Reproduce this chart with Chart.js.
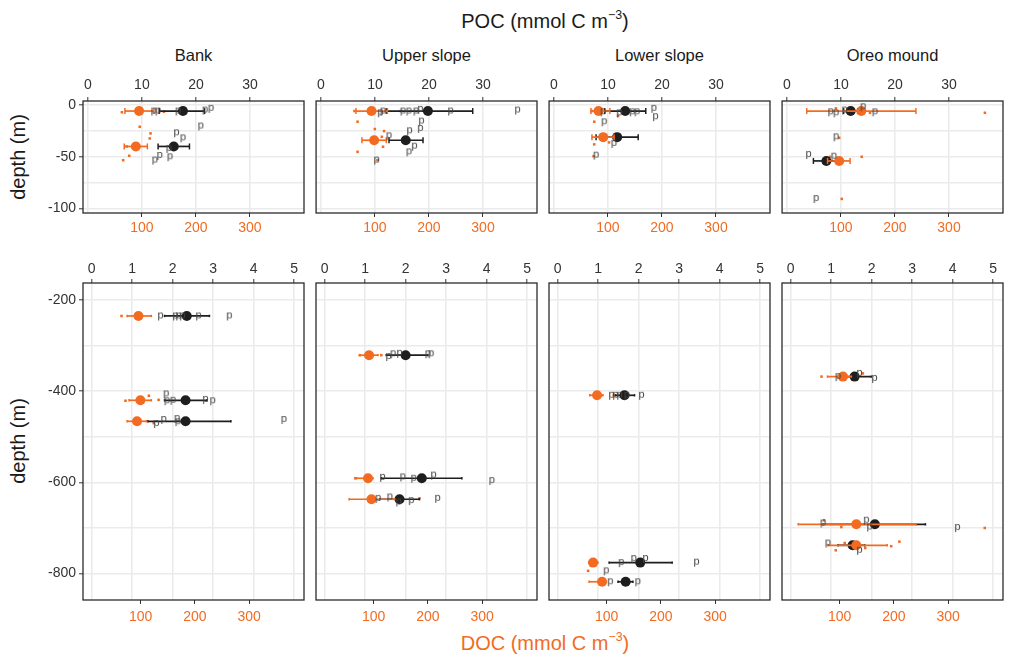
<!DOCTYPE html>
<html>
<head>
<meta charset="utf-8">
<script src="https://cdn.jsdelivr.net/npm/chart.js@4.4.1/dist/chart.umd.min.js"></script>
<style>
  body { margin: 0; background: #fff; font-family: "Liberation Sans", Arial, sans-serif; }
  #fig { position: relative; width: 1010px; height: 658px; overflow: hidden; background: #fff; }
  #fig canvas { position: absolute; }
  .lbl { position: absolute; white-space: nowrap; color: #1a1a1a; transform: translate(-50%, -50%); }
  .axisTitle { font-size: 20px; }
  .strip { font-size: 16.5px; }
  .rot { transform: translate(-50%, -50%) rotate(-90deg); }
  sup { font-size: 0.62em; vertical-align: 0.65em; line-height: 0; }
</style>
</head>
<body>
<div id="fig">
  <div class="lbl axisTitle" style="left:545px; top:21px;">POC (mmol C m<sup>−3</sup>)</div>
  <div class="lbl axisTitle" style="left:545px; top:643px; color:#F26B21;">DOC (mmol C m<sup>−3</sup>)</div>
  <div class="lbl axisTitle rot" style="left:18px; top:157px;">depth (m)</div>
  <div class="lbl axisTitle rot" style="left:18px; top:441px;">depth (m)</div>
</div>
<script>
const sites = ['Bank', 'Upper slope', 'Lower slope', 'Oreo mound'];

const pocTicksShallow = [0, 10, 20, 30];
const pocTicksDeep = [0, 1, 2, 3, 4, 5];
const docTicks = [100, 200, 300];
const depthGridShallow = [0, -25, -50, -75, -100];
const depthGridDeep = [-200, -300, -400, -500, -600, -700, -800];

// panels 0-3: shallow row (Bank, Upper slope, Lower slope, Oreo mound); 4-7: deep row
const meanDepth = [
  [-5.8, -40], [-5.8, -34], [-5.8, -31], [-5.8, -54],
  [-235, -420, -466], [-321, -591, -637], [-409, -776, -818], [-368, -692, -738]
];
const pocMean = [
  [17.6, 15.9], [19.8, 15.7], [13.2, 11.7], [11.8, 7.3],
  [2.35, 2.32, 2.32], [2.00, 2.40, 1.85], [1.65, 2.04, 1.68], [1.58, 2.08, 1.53]
];
const pocLo = [
  [13.2, 13.0], [12.1, 12.6], [9.4, 7.8], [10.5, 4.9],
  [1.80, 1.80, 1.39], [1.52, 1.40, 1.36], [1.43, 1.27, 1.49], [1.17, 0.80, 1.17]
];
const pocHi = [
  [21.6, 18.8], [28.1, 18.9], [17.0, 15.6], [13.1, 9.7],
  [2.91, 2.85, 3.44], [2.55, 3.39, 2.34], [1.90, 2.83, 1.86], [1.99, 3.33, 1.83]
];
const docMean = [
  [94.8, 88.8], [93.6, 98.5], [82.5, 91.2], [137.7, 96.7],
  [95.8, 99.4, 93.2], [91.4, 89.5, 95.8], [82.2, 74.9, 91.4], [106, 130.6, 130.6]
];
const docLo = [
  [68.6, 67.3], [64.9, 75.9], [68.5, 70.4], [36.6, 75.2],
  [74.9, 78.5, 74.9], [74.3, 68.2, 54.7], [68.8, 67.5, 67.5], [77.4, 23.5, 78.5]
];
const docHi = [
  [122.4, 110.1], [123, 121], [103.5, 111.4], [238.8, 116.9],
  [119.6, 119.6, 110.5], [107.9, 98.7, 138.5], [93.2, 84.0, 99.4], [121.5, 240.7, 187.5]
];

// individual POC samples (drawn as "p")
const pocSampleX = [
  [12.2, 13.0, 16.7, 21.7, 22.8, 20.9, 16.4, 17.6, 15.0, 12.4, 13.3, 15.2],
  [11.0, 11.5, 15.2, 16.3, 17.6, 18.4, 24.0, 36.4, 18.6, 18.4, 16.4, 12.6, 16.3, 17.3, 10.3],
  [9.1, 12.1, 14.5, 15.4, 18.5, 18.8, 9.3, 11.1, 7.8],
  [8.1, 9.1, 10.7, 14.1, 16.3, 9.1, 4.0, 8.7, 5.4],
  [1.70, 2.07, 2.15, 2.24, 2.64, 3.40, 1.84, 1.86, 2.01, 2.81, 2.99, 1.60, 1.78, 2.11, 2.13, 4.75],
  [1.58, 1.69, 1.85, 2.55, 2.63, 1.43, 1.93, 2.20, 2.69, 4.13, 1.32, 1.61, 1.83, 2.14, 2.79],
  [1.33, 1.43, 1.53, 1.71, 2.07, 1.57, 1.88, 2.17, 3.43, 1.20, 1.30, 1.98],
  [1.17, 1.70, 2.07, 0.80, 1.87, 1.95, 4.12, 0.92, 1.70]
];
const pocSampleDepth = [
  [-5.8, -5.8, -5.8, -4.8, -3.2, -20.3, -26.8, -31.7, -41.9, -53.2, -48.7, -50],
  [-7.5, -5.8, -5.8, -5.8, -5.8, -4.2, -5.8, -4.8, -15.5, -22.6, -24.9, -29.7, -45.2, -39.7, -53.2],
  [-6.5, -7.5, -6.5, -6.5, -3.2, -11.3, -16.2, -37.1, -48.4],
  [-6.5, -7.5, -4.8, -1.6, -6.5, -30.7, -47.8, -49.4, -90.3],
  [-235, -235, -235, -235, -235, -235, -406, -421, -420, -418, -421, -471, -462, -460, -467, -462],
  [-324, -318, -317, -318, -318, -589, -588, -591, -584, -596, -635, -632, -643, -640, -635],
  [-409, -409, -409, -409, -409, -776, -767, -767, -775, -794, -818, -818],
  [-368, -361, -372, -689, -683, -698, -699, -733, -749]
];

// individual DOC samples (small squares)
const docSampleX = [
  [63, 140.8, 96, 116, 114.5, 76.5, 65.4, 72],
  [67.8, 99.8, 116.9, 112.7, 115, 67.8, 104.6, 147.6, 62],
  [118.8, 74.6, 74.6, 102, 73.3, 70],
  [366.5, 90.6, 153.7, 96.7, 138.4, 80, 101.5],
  [64.6, 71.9, 115, 133, 124],
  [74.3, 114, 66, 184.4],
  [112.8, 65.7, 136, 68],
  [66.4, 142.7, 71.2, 103, 367.3, 92.7, 109.2, 147, 194.9, 210]
];
const docSampleDepth = [
  [-7, -6.5, -21, -27.4, -32.3, -49, -53.3, -40],
  [-16.1, -23.2, -25.2, -30.7, -40.3, -45.2, -53.2, -5.8, -5.8],
  [-10.6, -16.1, -38, -36.1, -49.4, -5.8],
  [-7.5, -3.2, -7.5, -31.7, -50, -50, -90.7],
  [-235, -421, -410, -419, -470],
  [-321, -321, -591, -635],
  [-409, -794, -818, -776],
  [-368, -361, -683, -698, -700, -749, -733, -744, -740, -730]
];

const ORANGE = '#F26B21';
const INK = '#1e1e1e';
const GRID = '#ebebeb';
const AXIS = '#333333';
const FONT = '"Liberation Sans", Arial, sans-serif';
const TICK_SIZE = 14;

const colLeft = [83, 316, 549, 782];
const panelW = 221;
const rows = [
  { top: 101, h: 112, topAxis: 28, bottomAxis: 28, topPad: 3, bottomPad: 3,
    depthMin: -104.3, depthMax: 3.9,
    pocMin: -0.9, pocMax: 40, docMin: -9, docMax: 400,
    pocTicks: pocTicksShallow, depthGrid: depthGridShallow, labelStep: 50, cap: 3 },
  { top: 283, h: 317, topAxis: 28, bottomAxis: 28, topPad: 1, bottomPad: 5,
    depthMin: -858, depthMax: -162.7,
    pocMin: -0.214, pocMax: 5.246, docMin: -6.4, docMax: 401,
    pocTicks: pocTicksDeep, depthGrid: depthGridDeep, labelStep: 200, cap: 1.2 }
];

const fig = document.getElementById('fig');

// little "p" glyph used as point marker for POC samples
const pGlyph = document.createElement('canvas');
pGlyph.width = 9; pGlyph.height = 15;
(() => {
  const g = pGlyph.getContext('2d');
  g.font = '11px ' + FONT;
  g.fillStyle = '#444';
  g.textAlign = 'center';
  g.textBaseline = 'alphabetic';
  g.fillText('p', 4.5, 10);
})();

const panelFrame = {
  id: 'panelFrame',
  afterDraw(chart) {
    const { ctx, chartArea: a } = chart;
    ctx.save();
    ctx.strokeStyle = '#2b2b2b';
    ctx.lineWidth = 1.3;
    ctx.strokeRect(a.left, a.top, a.right - a.left, a.bottom - a.top);
    ctx.restore();
  }
};

sites.forEach((name, c) => {
  const s = document.createElement('div');
  s.className = 'lbl strip';
  s.style.left = (colLeft[c] + panelW / 2) + 'px';
  s.style.top = '55px';
  s.textContent = name;
  fig.appendChild(s);
});

function errorBar(lo, hi, depth, axis, color, cap, order) {
  return {
    data: [{ x: lo, y: depth }, { x: hi, y: depth }],
    xAxisID: axis,
    showLine: true,
    borderColor: color,
    borderWidth: 1.7,
    pointStyle: 'line',
    rotation: 90,
    pointRadius: cap,
    pointBorderColor: color,
    pointBorderWidth: 1.5,
    order
  };
}

function makePanel(p) {
  const r = p < 4 ? 0 : 1;
  const c = p % 4;
  const row = rows[r];
  const yW = c === 0 ? 46 : 0;
  const pad = 2;

  const canvas = document.createElement('canvas');
  const W = yW + panelW + 2 * pad;
  const H = row.topAxis + row.h + row.bottomAxis;
  canvas.width = W; canvas.height = H;
  canvas.style.width = W + 'px'; canvas.style.height = H + 'px';
  canvas.style.left = (colLeft[c] - yW - pad) + 'px';
  canvas.style.top = (row.top - row.topAxis) + 'px';
  fig.appendChild(canvas);

  const datasets = [];
  datasets.push({
    data: docSampleX[p].map((x, i) => ({ x, y: docSampleDepth[p][i] })),
    xAxisID: 'x', pointStyle: 'rect', pointRadius: 1.8,
    backgroundColor: ORANGE, borderWidth: 0, order: 7
  });
  meanDepth[p].forEach((d, i) => {
    datasets.push(errorBar(pocLo[p][i], pocHi[p][i], d, 'x2', INK, row.cap, 6));
    datasets.push(errorBar(docLo[p][i], docHi[p][i], d, 'x', ORANGE, row.cap, 4));
  });
  datasets.push({
    data: pocMean[p].map((x, i) => ({ x, y: meanDepth[p][i] })),
    xAxisID: 'x2', pointRadius: 5, backgroundColor: INK, borderWidth: 0, order: 5
  });
  datasets.push({
    data: docMean[p].map((x, i) => ({ x, y: meanDepth[p][i] })),
    xAxisID: 'x', pointRadius: 5, backgroundColor: ORANGE, borderWidth: 0, order: 3
  });
  datasets.push({
    data: pocSampleX[p].map((x, i) => ({ x, y: pocSampleDepth[p][i] })),
    xAxisID: 'x2', pointStyle: pGlyph, pointRadius: 4, order: 1
  });

  const step = row.labelStep;
  new Chart(canvas, {
    type: 'scatter',
    data: { datasets },
    options: {
      responsive: false,
      animation: false,
      devicePixelRatio: 1,
      events: [],
      layout: { autoPadding: false, padding: { left: pad, right: pad, top: 0, bottom: 0 } },
      plugins: { legend: { display: false }, tooltip: { enabled: false } },
      scales: {
        x: {
          type: 'linear', position: 'bottom', min: row.docMin, max: row.docMax,
          afterBuildTicks: s => { s.ticks = docTicks.map(v => ({ value: v })); },
          afterFit: s => { s.height = row.bottomAxis; },
          ticks: { color: ORANGE, font: { family: FONT, size: TICK_SIZE }, padding: row.bottomPad, maxRotation: 0, autoSkip: false },
          grid: { drawOnChartArea: false, tickLength: 4, tickColor: AXIS, tickWidth: 1 },
          border: { display: false }
        },
        x2: {
          type: 'linear', position: 'top', min: row.pocMin, max: row.pocMax,
          afterBuildTicks: s => { s.ticks = row.pocTicks.map(v => ({ value: v })); },
          afterFit: s => { s.height = row.topAxis; },
          ticks: { color: AXIS, font: { family: FONT, size: TICK_SIZE }, padding: row.topPad, maxRotation: 0, autoSkip: false },
          grid: { color: GRID, lineWidth: 1.6, tickLength: 4, tickColor: AXIS, tickWidth: 1 },
          border: { display: false }
        },
        y: {
          type: 'linear', position: 'left', min: row.depthMin, max: row.depthMax,
          afterBuildTicks: s => { s.ticks = row.depthGrid.map(v => ({ value: v })); },
          afterFit: s => { s.width = yW; },
          ticks: {
            display: c === 0, color: AXIS, font: { family: FONT, size: TICK_SIZE }, padding: 3,
            autoSkip: false, callback: v => (v % step === 0 ? String(v) : '')
          },
          grid: {
            color: GRID, lineWidth: 1.6, drawTicks: c === 0, tickLength: 4, tickWidth: 1,
            tickColor: ctx => (ctx.tick && ctx.tick.value % step === 0 ? AXIS : 'rgba(0,0,0,0)')
          },
          border: { display: false }
        }
      }
    },
    plugins: [panelFrame]
  });
}

for (let p = 0; p < 8; p++) makePanel(p);
</script>
</body>
</html>
